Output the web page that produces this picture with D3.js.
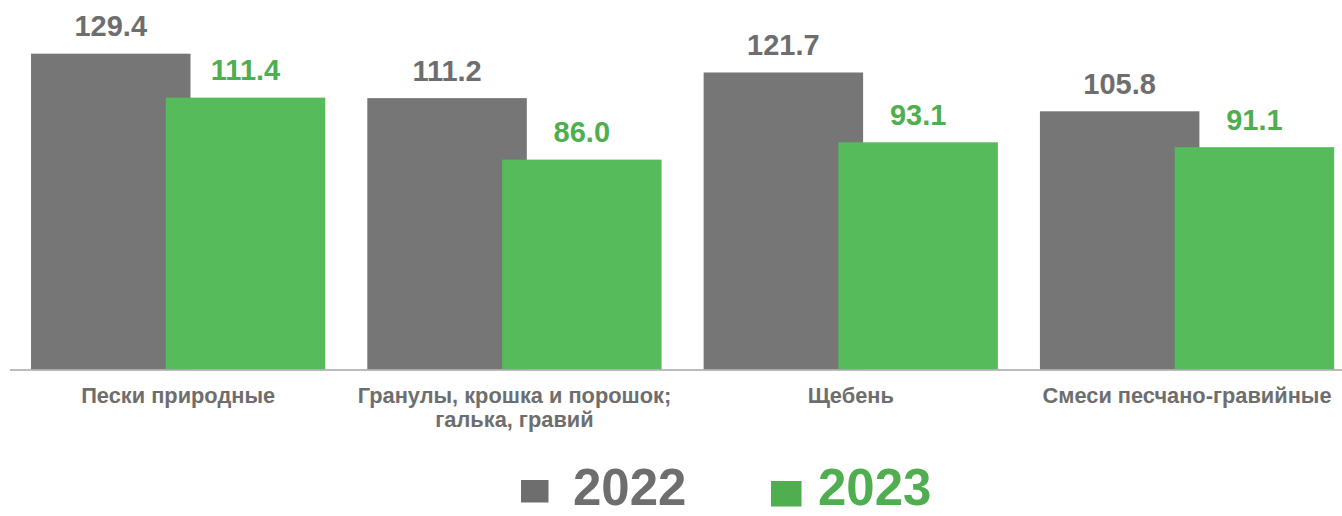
<!DOCTYPE html>
<html>
<head>
<meta charset="utf-8">
<script src="https://cdn.jsdelivr.net/npm/d3@7"></script>
<style>
  html, body { margin: 0; padding: 0; background: #fff; }
  #canvas { width: 1342px; height: 516px; overflow: hidden; }
  text { font-family: "Liberation Sans", Arial, sans-serif; font-weight: bold; }
</style>
</head>
<body>
<div id="canvas"></div>
<script>
const categories = [
  ['Пески природные'],
  ['Гранулы, крошка и порошок;', 'галька, гравий'],
  ['Щебень'],
  ['Смеси песчано-гравийные']
];
const years = ['2022', '2023'];
const values2022 = [129.4, 111.2, 121.7, 105.8];
const values2023 = [111.4, 86.0, 93.1, 91.1];

const W = 1342, H = 516;
const base = 369.5;
const barColor = { '2022': '#767676', '2023': '#56bb5a' };
const textColor = { '2022': '#6e6e6e', '2023': '#4fae50' };

const Svg = d3.select('#canvas').append('svg')
  .attr('width', W)
  .attr('height', H);

const keys = categories.map((d, i) => i);

const xScale = d3.scaleBand()
  .domain(keys)
  .range([10, 10 + 336.3 * 4])
  .paddingInner(0.125)
  .paddingOuter(0.0625);

const barW = xScale.bandwidth() * 0.542;

const subScale = d3.scalePoint()
  .domain(years)
  .range([0, xScale.bandwidth() - barW]);

const yScale = d3.scaleLinear()
  .domain([0, 140])
  .range([base, base - 140 * 2.4405]);

const rows = [];
keys.forEach(i => {
  rows.push({ cat: i, year: '2022', value: values2022[i] });
  rows.push({ cat: i, year: '2023', value: values2023[i] });
});

// bars
Svg.append('g').selectAll('rect')
  .data(rows)
  .enter()
  .append('rect')
  .attr('x', d => xScale(d.cat) + subScale(d.year))
  .attr('y', d => yScale(d.value))
  .attr('width', barW)
  .attr('height', d => base - yScale(d.value))
  .attr('fill', d => barColor[d.year]);

// value labels
Svg.append('g').selectAll('text')
  .data(rows)
  .enter()
  .append('text')
  .text(d => d.value.toFixed(1))
  .attr('x', d => xScale(d.cat) + subScale(d.year) + barW / 2)
  .attr('y', d => yScale(d.value) - 17.5)
  .attr('text-anchor', 'middle')
  .attr('font-size', '29px')
  .attr('fill', d => textColor[d.year]);

// baseline
Svg.append('line')
  .attr('x1', 10)
  .attr('x2', W)
  .attr('y1', base + 0.5)
  .attr('y2', base + 0.5)
  .attr('stroke', '#a6a6a6')
  .attr('stroke-width', 1.5);

// category labels
const cats = Svg.append('g').selectAll('text')
  .data(keys)
  .enter()
  .append('text')
  .attr('x', d => xScale(d) + xScale.bandwidth() / 2)
  .attr('y', 403.3)
  .attr('text-anchor', 'middle')
  .attr('font-size', '21.8px')
  .attr('fill', '#6e6e6e');

cats.selectAll('tspan')
  .data(d => categories[d].map(t => ({ t, c: d })))
  .enter()
  .append('tspan')
  .attr('x', d => xScale(d.c) + xScale.bandwidth() / 2)
  .attr('dy', (d, i) => i ? 24 : 0)
  .text(d => d.t);

// legend (nudged up a little so the text box stays inside the picture)
const legendItems = [
  { year: '2022', sx: 521, sy: 480, sw: 27.5, sh: 22.5, tx: 573 },
  { year: '2023', sx: 771, sy: 481, sw: 30.5, sh: 25.5, tx: 818 }
];

const legend = Svg.append('g').selectAll('g')
  .data(legendItems)
  .enter()
  .append('g');

legend.append('rect')
  .attr('x', d => d.sx)
  .attr('y', d => d.sy)
  .attr('width', d => d.sw)
  .attr('height', d => d.sh)
  .attr('fill', d => textColor[d.year]);

legend.append('text')
  .text(d => d.year)
  .attr('x', d => d.tx)
  .attr('y', 505)
  .attr('font-size', '51px')
  .attr('fill', d => textColor[d.year]);
</script>
</body>
</html>
